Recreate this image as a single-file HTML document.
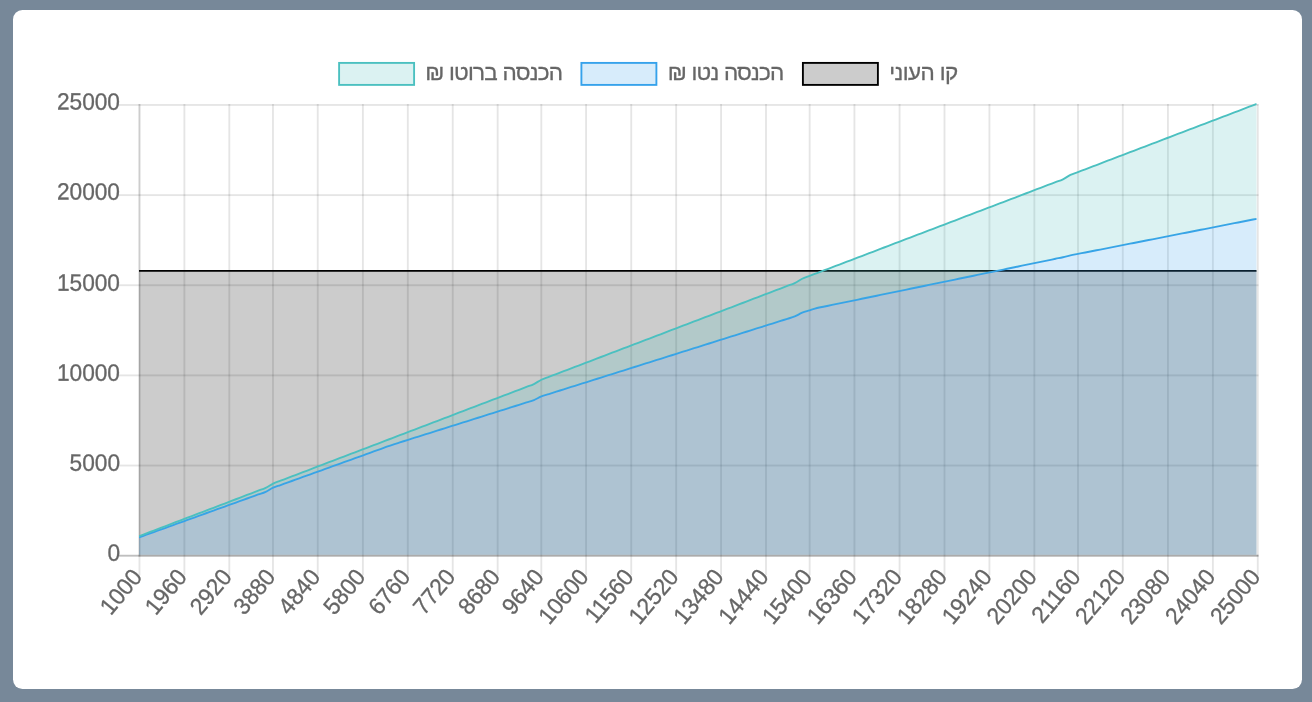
<!DOCTYPE html>
<html lang="he">
<head>
<meta charset="utf-8">
<title>הכנסה ברוטו / נטו</title>
<style>
html,body{margin:0;padding:0;width:1312px;height:702px;overflow:hidden;background:#778899;font-family:"Liberation Sans",Arial,sans-serif}
.t text{font-family:"Liberation Sans",Arial,sans-serif;font-size:22.5px;fill:#666;stroke:#666;stroke-width:0.3px}
.t text.d{font-size:23.6px}
.card{position:absolute;left:13px;top:10px;width:1289px;height:679px;background:#fff;border-radius:9.4px}
</style>
</head>
<body>
<div class="card"></div>
<svg width="1312" height="702" viewBox="0 0 1312 702" style="position:absolute;left:0;top:0">
<defs><clipPath id="ca"><rect x="139.00" y="102.95" width="1117.70" height="451.81"/></clipPath></defs>
<g shape-rendering="auto">
<rect x="138.53" y="104.01" width="1.875" height="471.19" fill="rgba(0,0,0,0.1)"/>
<rect x="183.44" y="104.01" width="1.875" height="471.19" fill="rgba(0,0,0,0.1)"/>
<rect x="228.37" y="104.01" width="1.875" height="471.19" fill="rgba(0,0,0,0.1)"/>
<rect x="272.03" y="104.01" width="1.875" height="471.19" fill="rgba(0,0,0,0.1)"/>
<rect x="316.80" y="104.01" width="1.875" height="471.19" fill="rgba(0,0,0,0.1)"/>
<rect x="361.93" y="104.01" width="1.875" height="471.19" fill="rgba(0,0,0,0.1)"/>
<rect x="406.88" y="104.01" width="1.875" height="471.19" fill="rgba(0,0,0,0.1)"/>
<rect x="451.79" y="104.01" width="1.875" height="471.19" fill="rgba(0,0,0,0.1)"/>
<rect x="496.72" y="104.01" width="1.875" height="471.19" fill="rgba(0,0,0,0.1)"/>
<rect x="540.38" y="104.01" width="1.875" height="471.19" fill="rgba(0,0,0,0.1)"/>
<rect x="585.15" y="104.01" width="1.875" height="471.19" fill="rgba(0,0,0,0.1)"/>
<rect x="630.28" y="104.01" width="1.875" height="471.19" fill="rgba(0,0,0,0.1)"/>
<rect x="675.23" y="104.01" width="1.875" height="471.19" fill="rgba(0,0,0,0.1)"/>
<rect x="720.14" y="104.01" width="1.875" height="471.19" fill="rgba(0,0,0,0.1)"/>
<rect x="765.07" y="104.01" width="1.875" height="471.19" fill="rgba(0,0,0,0.1)"/>
<rect x="808.73" y="104.01" width="1.875" height="471.19" fill="rgba(0,0,0,0.1)"/>
<rect x="853.50" y="104.01" width="1.875" height="471.19" fill="rgba(0,0,0,0.1)"/>
<rect x="898.63" y="104.01" width="1.875" height="471.19" fill="rgba(0,0,0,0.1)"/>
<rect x="943.58" y="104.01" width="1.875" height="471.19" fill="rgba(0,0,0,0.1)"/>
<rect x="988.49" y="104.01" width="1.875" height="471.19" fill="rgba(0,0,0,0.1)"/>
<rect x="1033.42" y="104.01" width="1.875" height="471.19" fill="rgba(0,0,0,0.1)"/>
<rect x="1077.08" y="104.01" width="1.875" height="471.19" fill="rgba(0,0,0,0.1)"/>
<rect x="1121.85" y="104.01" width="1.875" height="471.19" fill="rgba(0,0,0,0.1)"/>
<rect x="1166.98" y="104.01" width="1.875" height="471.19" fill="rgba(0,0,0,0.1)"/>
<rect x="1211.93" y="104.01" width="1.875" height="471.19" fill="rgba(0,0,0,0.1)"/>
<rect x="1256.84" y="104.01" width="1.875" height="471.19" fill="rgba(0,0,0,0.1)"/>
<rect x="118.91" y="554.76" width="1139.60" height="1.875" fill="rgba(0,0,0,0.25)"/>
<rect x="118.91" y="464.61" width="1139.60" height="1.875" fill="rgba(0,0,0,0.1)"/>
<rect x="118.91" y="374.46" width="1139.60" height="1.875" fill="rgba(0,0,0,0.1)"/>
<rect x="118.91" y="284.31" width="1139.60" height="1.875" fill="rgba(0,0,0,0.1)"/>
<rect x="118.91" y="194.16" width="1139.60" height="1.875" fill="rgba(0,0,0,0.1)"/>
<rect x="118.91" y="104.01" width="1139.60" height="1.875" fill="rgba(0,0,0,0.1)"/>
<rect x="138.51" y="104.01" width="1.875" height="452.62" fill="rgba(0,0,0,0.1)"/>
<rect x="138.51" y="554.76" width="1120.00" height="1.875" fill="rgba(0,0,0,0.1)"/>
</g>
<g clip-path="url(#ca)">
<rect x="139.0" y="270.9" width="1117.70" height="284.80" fill="rgba(0,0,0,0.2)"/>
<path d="M139.0 270.9H1256.7" stroke="#000" stroke-width="1.875" fill="none"/>
<path d="M139.00 537.40C141.98 536.33 143.47 535.79 146.45 534.72C149.43 533.64 150.92 533.11 153.90 532.03C156.88 530.96 158.37 530.42 161.35 529.35C164.33 528.28 165.82 527.74 168.81 526.67C171.79 525.59 173.28 525.06 176.26 523.99C179.24 522.91 180.73 522.38 183.71 521.30C186.69 520.23 188.18 519.69 191.16 518.62C194.14 517.55 195.63 517.01 198.61 515.94C201.59 514.86 203.08 514.33 206.06 513.25C209.04 512.18 210.53 511.64 213.51 510.57C216.49 509.50 217.98 508.96 220.96 507.89C223.95 506.81 225.44 506.28 228.42 505.20C231.40 504.13 232.89 503.59 235.87 502.52C238.85 501.45 240.34 500.91 243.32 499.84C246.30 498.76 247.79 498.23 250.77 497.16C253.75 496.08 255.24 495.55 258.22 494.47C261.20 493.40 262.80 493.09 265.67 491.79C268.76 490.39 270.04 489.11 273.12 487.71C276.00 486.40 277.59 486.10 280.58 485.02C283.56 483.95 285.05 483.41 288.03 482.34C291.01 481.27 292.50 480.73 295.48 479.66C298.46 478.58 299.95 478.05 302.93 476.97C305.91 475.90 307.40 475.36 310.38 474.29C313.36 473.22 314.85 472.68 317.83 471.61C320.81 470.53 322.30 470.00 325.28 468.93C328.26 467.85 329.75 467.32 332.73 466.24C335.72 465.17 337.21 464.63 340.19 463.56C343.17 462.49 344.66 461.95 347.64 460.88C350.62 459.80 352.11 459.27 355.09 458.19C358.07 457.12 359.56 456.58 362.54 455.51C365.52 454.44 367.01 453.90 369.99 452.83C372.97 451.75 374.46 451.22 377.44 450.14C380.42 449.07 381.91 448.53 384.89 447.46C387.87 446.39 389.34 445.79 392.35 444.78C395.31 443.78 396.82 443.37 399.80 442.43C402.78 441.49 404.27 441.02 407.25 440.08C410.23 439.14 411.72 438.67 414.70 437.73C417.68 436.79 419.17 436.32 422.15 435.38C425.13 434.44 426.62 433.97 429.60 433.03C432.58 432.09 434.07 431.62 437.05 430.68C440.03 429.74 441.52 429.27 444.50 428.33C447.49 427.39 448.98 426.92 451.96 425.98C454.94 425.04 456.43 424.57 459.41 423.63C462.39 422.69 463.88 422.22 466.86 421.28C469.84 420.34 471.33 419.87 474.31 418.93C477.29 417.99 478.78 417.52 481.76 416.58C484.74 415.64 486.23 415.17 489.21 414.23C492.19 413.29 493.68 412.82 496.66 411.88C499.64 410.94 501.13 410.47 504.12 409.53C507.10 408.59 508.59 408.12 511.57 407.18C514.55 406.24 516.04 405.77 519.02 404.83C522.00 403.89 523.49 403.42 526.47 402.48C529.45 401.54 531.04 401.31 533.92 400.13C537.00 398.87 538.29 397.64 541.37 396.38C544.26 395.20 545.84 394.97 548.82 394.03C551.80 393.09 553.29 392.62 556.27 391.68C559.26 390.74 560.75 390.27 563.73 389.33C566.71 388.39 568.20 387.92 571.18 386.98C574.16 386.04 575.65 385.57 578.63 384.63C581.61 383.69 583.10 383.22 586.08 382.28C589.06 381.34 590.55 380.87 593.53 379.93C596.51 378.99 598.00 378.52 600.98 377.58C603.96 376.64 605.45 376.17 608.43 375.23C611.41 374.29 612.90 373.82 615.89 372.88C618.87 371.94 620.36 371.47 623.34 370.53C626.32 369.59 627.81 369.12 630.79 368.18C633.77 367.24 635.26 366.77 638.24 365.83C641.22 364.89 642.71 364.42 645.69 363.48C648.67 362.54 650.16 362.07 653.14 361.13C656.12 360.19 657.61 359.72 660.59 358.78C663.57 357.84 665.06 357.37 668.04 356.43C671.03 355.49 672.52 355.02 675.50 354.08C678.48 353.14 679.97 352.67 682.95 351.73C685.93 350.79 687.42 350.32 690.40 349.38C693.38 348.44 694.87 347.97 697.85 347.03C700.83 346.09 702.32 345.62 705.30 344.68C708.28 343.74 709.77 343.27 712.75 342.33C715.73 341.39 717.22 340.92 720.20 339.98C723.18 339.04 724.67 338.57 727.66 337.63C730.64 336.69 732.13 336.22 735.11 335.28C738.09 334.34 739.58 333.87 742.56 332.93C745.54 331.99 747.03 331.52 750.01 330.58C752.99 329.64 754.48 329.17 757.46 328.23C760.44 327.29 761.93 326.82 764.91 325.88C767.89 324.94 769.38 324.47 772.36 323.53C775.34 322.59 776.83 322.12 779.81 321.18C782.80 320.24 784.29 319.77 787.27 318.83C790.25 317.89 791.83 317.66 794.72 316.48C797.80 315.22 799.09 313.99 802.17 312.73C805.05 311.55 806.64 311.32 809.62 310.38C812.60 309.44 814.05 308.82 817.07 308.03C820.01 307.26 821.54 307.10 824.52 306.49C827.50 305.87 828.99 305.57 831.97 304.95C834.95 304.33 836.44 304.03 839.43 303.41C842.41 302.80 843.90 302.49 846.88 301.87C849.86 301.26 851.35 300.95 854.33 300.33C857.31 299.72 858.80 299.41 861.78 298.79C864.76 298.18 866.25 297.87 869.23 297.25C872.21 296.64 873.70 296.33 876.68 295.72C879.66 295.10 881.15 294.79 884.13 294.18C887.11 293.56 888.60 293.25 891.58 292.64C894.57 292.02 896.06 291.71 899.04 291.10C902.02 290.48 903.51 290.18 906.49 289.56C909.47 288.94 910.96 288.64 913.94 288.02C916.92 287.41 918.41 287.10 921.39 286.48C924.37 285.87 925.86 285.56 928.84 284.94C931.82 284.33 933.31 284.02 936.29 283.40C939.27 282.79 940.76 282.48 943.74 281.86C946.72 281.25 948.21 280.94 951.20 280.33C954.18 279.71 955.67 279.40 958.65 278.79C961.63 278.17 963.12 277.86 966.10 277.25C969.08 276.63 970.57 276.32 973.55 275.71C976.53 275.09 978.02 274.79 981.00 274.17C983.98 273.55 985.47 273.25 988.45 272.63C991.43 272.02 992.92 271.71 995.90 271.09C998.88 270.48 1000.37 270.17 1003.35 269.55C1006.34 268.94 1007.83 268.63 1010.81 268.01C1013.79 267.40 1015.28 267.09 1018.26 266.47C1021.24 265.86 1022.73 265.55 1025.71 264.94C1028.69 264.32 1030.18 264.01 1033.16 263.40C1036.14 262.78 1037.63 262.47 1040.61 261.86C1043.59 261.24 1045.08 260.93 1048.06 260.32C1051.04 259.70 1052.53 259.40 1055.51 258.78C1058.49 258.16 1060.00 257.91 1062.97 257.24C1065.96 256.56 1067.42 256.07 1070.42 255.40C1073.38 254.74 1074.89 254.52 1077.87 253.94C1080.85 253.35 1082.34 253.06 1085.32 252.47C1088.30 251.89 1089.79 251.60 1092.77 251.01C1095.75 250.42 1097.24 250.13 1100.22 249.55C1103.20 248.96 1104.69 248.67 1107.67 248.08C1110.65 247.50 1112.14 247.20 1115.12 246.62C1118.11 246.03 1119.60 245.74 1122.58 245.15C1125.56 244.57 1127.05 244.28 1130.03 243.69C1133.01 243.10 1134.50 242.81 1137.48 242.23C1140.46 241.64 1141.95 241.35 1144.93 240.76C1147.91 240.18 1149.40 239.88 1152.38 239.30C1155.36 238.71 1156.85 238.42 1159.83 237.83C1162.81 237.25 1164.30 236.96 1167.28 236.37C1170.26 235.78 1171.75 235.49 1174.74 234.91C1177.72 234.32 1179.21 234.03 1182.19 233.44C1185.17 232.86 1186.66 232.56 1189.64 231.98C1192.62 231.39 1194.11 231.10 1197.09 230.51C1200.07 229.93 1201.56 229.64 1204.54 229.05C1207.52 228.46 1209.01 228.17 1211.99 227.59C1214.97 227.00 1216.46 226.71 1219.44 226.12C1222.42 225.54 1223.91 225.24 1226.89 224.66C1229.88 224.07 1231.37 223.78 1234.35 223.19C1237.33 222.61 1238.82 222.32 1241.80 221.73C1244.78 221.14 1246.27 220.85 1249.25 220.27C1252.23 219.68 1253.72 219.39 1256.70 218.80L1256.70 555.7L139.0 555.7Z" fill="rgba(54,162,235,0.2)"/>
<path d="M139.00 537.40C141.98 536.33 143.47 535.79 146.45 534.72C149.43 533.64 150.92 533.11 153.90 532.03C156.88 530.96 158.37 530.42 161.35 529.35C164.33 528.28 165.82 527.74 168.81 526.67C171.79 525.59 173.28 525.06 176.26 523.99C179.24 522.91 180.73 522.38 183.71 521.30C186.69 520.23 188.18 519.69 191.16 518.62C194.14 517.55 195.63 517.01 198.61 515.94C201.59 514.86 203.08 514.33 206.06 513.25C209.04 512.18 210.53 511.64 213.51 510.57C216.49 509.50 217.98 508.96 220.96 507.89C223.95 506.81 225.44 506.28 228.42 505.20C231.40 504.13 232.89 503.59 235.87 502.52C238.85 501.45 240.34 500.91 243.32 499.84C246.30 498.76 247.79 498.23 250.77 497.16C253.75 496.08 255.24 495.55 258.22 494.47C261.20 493.40 262.80 493.09 265.67 491.79C268.76 490.39 270.04 489.11 273.12 487.71C276.00 486.40 277.59 486.10 280.58 485.02C283.56 483.95 285.05 483.41 288.03 482.34C291.01 481.27 292.50 480.73 295.48 479.66C298.46 478.58 299.95 478.05 302.93 476.97C305.91 475.90 307.40 475.36 310.38 474.29C313.36 473.22 314.85 472.68 317.83 471.61C320.81 470.53 322.30 470.00 325.28 468.93C328.26 467.85 329.75 467.32 332.73 466.24C335.72 465.17 337.21 464.63 340.19 463.56C343.17 462.49 344.66 461.95 347.64 460.88C350.62 459.80 352.11 459.27 355.09 458.19C358.07 457.12 359.56 456.58 362.54 455.51C365.52 454.44 367.01 453.90 369.99 452.83C372.97 451.75 374.46 451.22 377.44 450.14C380.42 449.07 381.91 448.53 384.89 447.46C387.87 446.39 389.34 445.79 392.35 444.78C395.31 443.78 396.82 443.37 399.80 442.43C402.78 441.49 404.27 441.02 407.25 440.08C410.23 439.14 411.72 438.67 414.70 437.73C417.68 436.79 419.17 436.32 422.15 435.38C425.13 434.44 426.62 433.97 429.60 433.03C432.58 432.09 434.07 431.62 437.05 430.68C440.03 429.74 441.52 429.27 444.50 428.33C447.49 427.39 448.98 426.92 451.96 425.98C454.94 425.04 456.43 424.57 459.41 423.63C462.39 422.69 463.88 422.22 466.86 421.28C469.84 420.34 471.33 419.87 474.31 418.93C477.29 417.99 478.78 417.52 481.76 416.58C484.74 415.64 486.23 415.17 489.21 414.23C492.19 413.29 493.68 412.82 496.66 411.88C499.64 410.94 501.13 410.47 504.12 409.53C507.10 408.59 508.59 408.12 511.57 407.18C514.55 406.24 516.04 405.77 519.02 404.83C522.00 403.89 523.49 403.42 526.47 402.48C529.45 401.54 531.04 401.31 533.92 400.13C537.00 398.87 538.29 397.64 541.37 396.38C544.26 395.20 545.84 394.97 548.82 394.03C551.80 393.09 553.29 392.62 556.27 391.68C559.26 390.74 560.75 390.27 563.73 389.33C566.71 388.39 568.20 387.92 571.18 386.98C574.16 386.04 575.65 385.57 578.63 384.63C581.61 383.69 583.10 383.22 586.08 382.28C589.06 381.34 590.55 380.87 593.53 379.93C596.51 378.99 598.00 378.52 600.98 377.58C603.96 376.64 605.45 376.17 608.43 375.23C611.41 374.29 612.90 373.82 615.89 372.88C618.87 371.94 620.36 371.47 623.34 370.53C626.32 369.59 627.81 369.12 630.79 368.18C633.77 367.24 635.26 366.77 638.24 365.83C641.22 364.89 642.71 364.42 645.69 363.48C648.67 362.54 650.16 362.07 653.14 361.13C656.12 360.19 657.61 359.72 660.59 358.78C663.57 357.84 665.06 357.37 668.04 356.43C671.03 355.49 672.52 355.02 675.50 354.08C678.48 353.14 679.97 352.67 682.95 351.73C685.93 350.79 687.42 350.32 690.40 349.38C693.38 348.44 694.87 347.97 697.85 347.03C700.83 346.09 702.32 345.62 705.30 344.68C708.28 343.74 709.77 343.27 712.75 342.33C715.73 341.39 717.22 340.92 720.20 339.98C723.18 339.04 724.67 338.57 727.66 337.63C730.64 336.69 732.13 336.22 735.11 335.28C738.09 334.34 739.58 333.87 742.56 332.93C745.54 331.99 747.03 331.52 750.01 330.58C752.99 329.64 754.48 329.17 757.46 328.23C760.44 327.29 761.93 326.82 764.91 325.88C767.89 324.94 769.38 324.47 772.36 323.53C775.34 322.59 776.83 322.12 779.81 321.18C782.80 320.24 784.29 319.77 787.27 318.83C790.25 317.89 791.83 317.66 794.72 316.48C797.80 315.22 799.09 313.99 802.17 312.73C805.05 311.55 806.64 311.32 809.62 310.38C812.60 309.44 814.05 308.82 817.07 308.03C820.01 307.26 821.54 307.10 824.52 306.49C827.50 305.87 828.99 305.57 831.97 304.95C834.95 304.33 836.44 304.03 839.43 303.41C842.41 302.80 843.90 302.49 846.88 301.87C849.86 301.26 851.35 300.95 854.33 300.33C857.31 299.72 858.80 299.41 861.78 298.79C864.76 298.18 866.25 297.87 869.23 297.25C872.21 296.64 873.70 296.33 876.68 295.72C879.66 295.10 881.15 294.79 884.13 294.18C887.11 293.56 888.60 293.25 891.58 292.64C894.57 292.02 896.06 291.71 899.04 291.10C902.02 290.48 903.51 290.18 906.49 289.56C909.47 288.94 910.96 288.64 913.94 288.02C916.92 287.41 918.41 287.10 921.39 286.48C924.37 285.87 925.86 285.56 928.84 284.94C931.82 284.33 933.31 284.02 936.29 283.40C939.27 282.79 940.76 282.48 943.74 281.86C946.72 281.25 948.21 280.94 951.20 280.33C954.18 279.71 955.67 279.40 958.65 278.79C961.63 278.17 963.12 277.86 966.10 277.25C969.08 276.63 970.57 276.32 973.55 275.71C976.53 275.09 978.02 274.79 981.00 274.17C983.98 273.55 985.47 273.25 988.45 272.63C991.43 272.02 992.92 271.71 995.90 271.09C998.88 270.48 1000.37 270.17 1003.35 269.55C1006.34 268.94 1007.83 268.63 1010.81 268.01C1013.79 267.40 1015.28 267.09 1018.26 266.47C1021.24 265.86 1022.73 265.55 1025.71 264.94C1028.69 264.32 1030.18 264.01 1033.16 263.40C1036.14 262.78 1037.63 262.47 1040.61 261.86C1043.59 261.24 1045.08 260.93 1048.06 260.32C1051.04 259.70 1052.53 259.40 1055.51 258.78C1058.49 258.16 1060.00 257.91 1062.97 257.24C1065.96 256.56 1067.42 256.07 1070.42 255.40C1073.38 254.74 1074.89 254.52 1077.87 253.94C1080.85 253.35 1082.34 253.06 1085.32 252.47C1088.30 251.89 1089.79 251.60 1092.77 251.01C1095.75 250.42 1097.24 250.13 1100.22 249.55C1103.20 248.96 1104.69 248.67 1107.67 248.08C1110.65 247.50 1112.14 247.20 1115.12 246.62C1118.11 246.03 1119.60 245.74 1122.58 245.15C1125.56 244.57 1127.05 244.28 1130.03 243.69C1133.01 243.10 1134.50 242.81 1137.48 242.23C1140.46 241.64 1141.95 241.35 1144.93 240.76C1147.91 240.18 1149.40 239.88 1152.38 239.30C1155.36 238.71 1156.85 238.42 1159.83 237.83C1162.81 237.25 1164.30 236.96 1167.28 236.37C1170.26 235.78 1171.75 235.49 1174.74 234.91C1177.72 234.32 1179.21 234.03 1182.19 233.44C1185.17 232.86 1186.66 232.56 1189.64 231.98C1192.62 231.39 1194.11 231.10 1197.09 230.51C1200.07 229.93 1201.56 229.64 1204.54 229.05C1207.52 228.46 1209.01 228.17 1211.99 227.59C1214.97 227.00 1216.46 226.71 1219.44 226.12C1222.42 225.54 1223.91 225.24 1226.89 224.66C1229.88 224.07 1231.37 223.78 1234.35 223.19C1237.33 222.61 1238.82 222.32 1241.80 221.73C1244.78 221.14 1246.27 220.85 1249.25 220.27C1252.23 219.68 1253.72 219.39 1256.70 218.80" stroke="rgb(54,162,235)" stroke-width="1.875" fill="none"/>
<path d="M139.00 536.20C141.98 535.06 143.47 534.49 146.45 533.36C149.43 532.22 150.92 531.65 153.90 530.52C156.88 529.38 158.37 528.81 161.35 527.67C164.33 526.54 165.82 525.97 168.81 524.83C171.79 523.70 173.28 523.13 176.26 521.99C179.24 520.85 180.73 520.28 183.71 519.15C186.69 518.01 188.18 517.44 191.16 516.31C194.14 515.17 195.63 514.60 198.61 513.46C201.59 512.33 203.08 511.76 206.06 510.62C209.04 509.49 210.53 508.92 213.51 507.78C216.49 506.64 217.98 506.07 220.96 504.94C223.95 503.80 225.44 503.23 228.42 502.10C231.40 500.96 232.89 500.39 235.87 499.25C238.85 498.12 240.34 497.55 243.32 496.41C246.30 495.28 247.79 494.71 250.77 493.57C253.75 492.43 255.24 491.86 258.22 490.73C261.20 489.59 262.81 489.27 265.67 487.89C268.77 486.39 270.03 485.04 273.12 483.54C275.99 482.16 277.59 481.84 280.58 480.70C283.56 479.57 285.05 479.00 288.03 477.86C291.01 476.72 292.50 476.15 295.48 475.02C298.46 473.88 299.95 473.31 302.93 472.18C305.91 471.04 307.40 470.47 310.38 469.33C313.36 468.20 314.85 467.63 317.83 466.49C320.81 465.36 322.30 464.79 325.28 463.65C328.26 462.51 329.75 461.94 332.73 460.81C335.72 459.67 337.21 459.10 340.19 457.97C343.17 456.83 344.66 456.26 347.64 455.12C350.62 453.99 352.11 453.42 355.09 452.28C358.07 451.15 359.56 450.58 362.54 449.44C365.52 448.30 367.01 447.73 369.99 446.60C372.97 445.46 374.46 444.89 377.44 443.76C380.42 442.62 381.91 442.05 384.89 440.91C387.87 439.78 389.36 439.21 392.35 438.07C395.33 436.94 396.82 436.37 399.80 435.23C402.78 434.09 404.27 433.52 407.25 432.39C410.23 431.25 411.72 430.68 414.70 429.55C417.68 428.41 419.17 427.84 422.15 426.70C425.13 425.57 426.62 425.00 429.60 423.86C432.58 422.73 434.07 422.16 437.05 421.02C440.03 419.88 441.52 419.31 444.50 418.18C447.49 417.04 448.98 416.47 451.96 415.34C454.94 414.20 456.43 413.63 459.41 412.49C462.39 411.36 463.88 410.79 466.86 409.65C469.84 408.52 471.33 407.95 474.31 406.81C477.29 405.67 478.78 405.10 481.76 403.97C484.74 402.83 486.23 402.26 489.21 401.13C492.19 399.99 493.68 399.42 496.66 398.28C499.64 397.15 501.13 396.58 504.12 395.44C507.10 394.31 508.59 393.74 511.57 392.60C514.55 391.46 516.04 390.89 519.02 389.76C522.00 388.62 523.49 388.05 526.47 386.92C529.45 385.78 531.06 385.45 533.92 384.07C537.02 382.58 538.27 381.22 541.37 379.73C544.24 378.35 545.84 378.03 548.82 376.89C551.80 375.75 553.29 375.18 556.27 374.05C559.26 372.91 560.75 372.34 563.73 371.21C566.71 370.07 568.20 369.50 571.18 368.36C574.16 367.23 575.65 366.66 578.63 365.52C581.61 364.39 583.10 363.82 586.08 362.68C589.06 361.54 590.55 360.97 593.53 359.84C596.51 358.70 598.00 358.13 600.98 357.00C603.96 355.86 605.45 355.29 608.43 354.15C611.41 353.02 612.90 352.45 615.89 351.31C618.87 350.18 620.36 349.61 623.34 348.47C626.32 347.33 627.81 346.76 630.79 345.63C633.77 344.49 635.26 343.92 638.24 342.79C641.22 341.65 642.71 341.08 645.69 339.94C648.67 338.81 650.16 338.24 653.14 337.10C656.12 335.97 657.61 335.40 660.59 334.26C663.57 333.12 665.06 332.55 668.04 331.42C671.03 330.28 672.52 329.71 675.50 328.58C678.48 327.44 679.97 326.87 682.95 325.73C685.93 324.60 687.42 324.03 690.40 322.89C693.38 321.76 694.87 321.19 697.85 320.05C700.83 318.91 702.32 318.34 705.30 317.21C708.28 316.07 709.77 315.50 712.75 314.37C715.73 313.23 717.22 312.66 720.20 311.52C723.18 310.39 724.67 309.82 727.66 308.68C730.64 307.55 732.13 306.98 735.11 305.84C738.09 304.70 739.58 304.13 742.56 303.00C745.54 301.86 747.03 301.29 750.01 300.16C752.99 299.02 754.48 298.45 757.46 297.31C760.44 296.18 761.93 295.61 764.91 294.47C767.89 293.34 769.38 292.77 772.36 291.63C775.34 290.49 776.83 289.92 779.81 288.79C782.80 287.65 784.29 287.08 787.27 285.95C790.25 284.81 791.85 284.48 794.72 283.10C797.81 281.61 799.07 280.25 802.17 278.76C805.03 277.38 806.64 277.06 809.62 275.92C812.60 274.78 814.09 274.21 817.07 273.08C820.05 271.94 821.54 271.37 824.52 270.24C827.50 269.10 828.99 268.53 831.97 267.39C834.95 266.26 836.44 265.69 839.43 264.55C842.41 263.42 843.90 262.85 846.88 261.71C849.86 260.57 851.35 260.00 854.33 258.87C857.31 257.73 858.80 257.16 861.78 256.03C864.76 254.89 866.25 254.32 869.23 253.18C872.21 252.05 873.70 251.48 876.68 250.34C879.66 249.21 881.15 248.64 884.13 247.50C887.11 246.36 888.60 245.79 891.58 244.66C894.57 243.52 896.06 242.95 899.04 241.82C902.02 240.68 903.51 240.11 906.49 238.97C909.47 237.84 910.96 237.27 913.94 236.13C916.92 235.00 918.41 234.43 921.39 233.29C924.37 232.15 925.86 231.58 928.84 230.45C931.82 229.31 933.31 228.74 936.29 227.61C939.27 226.47 940.76 225.90 943.74 224.76C946.72 223.63 948.21 223.06 951.20 221.92C954.18 220.79 955.67 220.22 958.65 219.08C961.63 217.94 963.12 217.37 966.10 216.24C969.08 215.10 970.57 214.53 973.55 213.40C976.53 212.26 978.02 211.69 981.00 210.55C983.98 209.42 985.47 208.85 988.45 207.71C991.43 206.58 992.92 206.01 995.90 204.87C998.88 203.73 1000.37 203.16 1003.35 202.03C1006.34 200.89 1007.83 200.32 1010.81 199.19C1013.79 198.05 1015.28 197.48 1018.26 196.34C1021.24 195.21 1022.73 194.64 1025.71 193.50C1028.69 192.37 1030.18 191.80 1033.16 190.66C1036.14 189.52 1037.63 188.95 1040.61 187.82C1043.59 186.68 1045.08 186.11 1048.06 184.98C1051.04 183.84 1052.53 183.27 1055.51 182.13C1058.49 181.00 1060.10 180.67 1062.97 179.29C1066.06 177.80 1067.32 176.44 1070.42 174.95C1073.28 173.57 1074.89 173.24 1077.87 172.11C1080.85 170.97 1082.34 170.40 1085.32 169.27C1088.30 168.13 1089.79 167.56 1092.77 166.42C1095.75 165.29 1097.24 164.72 1100.22 163.58C1103.20 162.45 1104.69 161.88 1107.67 160.74C1110.65 159.60 1112.14 159.03 1115.12 157.90C1118.11 156.76 1119.60 156.19 1122.58 155.06C1125.56 153.92 1127.05 153.35 1130.03 152.21C1133.01 151.08 1134.50 150.51 1137.48 149.37C1140.46 148.24 1141.95 147.67 1144.93 146.53C1147.91 145.39 1149.40 144.82 1152.38 143.69C1155.36 142.55 1156.85 141.98 1159.83 140.85C1162.81 139.71 1164.30 139.14 1167.28 138.00C1170.26 136.87 1171.75 136.30 1174.74 135.16C1177.72 134.03 1179.21 133.46 1182.19 132.32C1185.17 131.18 1186.66 130.61 1189.64 129.48C1192.62 128.34 1194.11 127.77 1197.09 126.64C1200.07 125.50 1201.56 124.93 1204.54 123.79C1207.52 122.66 1209.01 122.09 1211.99 120.95C1214.97 119.82 1216.46 119.25 1219.44 118.11C1222.42 116.97 1223.91 116.40 1226.89 115.27C1229.88 114.13 1231.37 113.56 1234.35 112.43C1237.33 111.29 1238.82 110.72 1241.80 109.58C1244.78 108.45 1246.27 107.88 1249.25 106.74C1252.23 105.61 1253.72 105.04 1256.70 103.90L1256.70 218.80C1253.72 219.39 1252.23 219.68 1249.25 220.27C1246.27 220.85 1244.78 221.14 1241.80 221.73C1238.82 222.32 1237.33 222.61 1234.35 223.19C1231.37 223.78 1229.88 224.07 1226.89 224.66C1223.91 225.24 1222.42 225.54 1219.44 226.12C1216.46 226.71 1214.97 227.00 1211.99 227.59C1209.01 228.17 1207.52 228.46 1204.54 229.05C1201.56 229.64 1200.07 229.93 1197.09 230.51C1194.11 231.10 1192.62 231.39 1189.64 231.98C1186.66 232.56 1185.17 232.86 1182.19 233.44C1179.21 234.03 1177.72 234.32 1174.74 234.91C1171.75 235.49 1170.26 235.78 1167.28 236.37C1164.30 236.96 1162.81 237.25 1159.83 237.83C1156.85 238.42 1155.36 238.71 1152.38 239.30C1149.40 239.88 1147.91 240.18 1144.93 240.76C1141.95 241.35 1140.46 241.64 1137.48 242.23C1134.50 242.81 1133.01 243.10 1130.03 243.69C1127.05 244.28 1125.56 244.57 1122.58 245.15C1119.60 245.74 1118.11 246.03 1115.12 246.62C1112.14 247.20 1110.65 247.50 1107.67 248.08C1104.69 248.67 1103.20 248.96 1100.22 249.55C1097.24 250.13 1095.75 250.42 1092.77 251.01C1089.79 251.60 1088.30 251.89 1085.32 252.47C1082.34 253.06 1080.85 253.35 1077.87 253.94C1074.89 254.52 1073.38 254.74 1070.42 255.40C1067.42 256.07 1065.96 256.56 1062.97 257.24C1060.00 257.91 1058.49 258.16 1055.51 258.78C1052.53 259.40 1051.04 259.70 1048.06 260.32C1045.08 260.93 1043.59 261.24 1040.61 261.86C1037.63 262.47 1036.14 262.78 1033.16 263.40C1030.18 264.01 1028.69 264.32 1025.71 264.94C1022.73 265.55 1021.24 265.86 1018.26 266.47C1015.28 267.09 1013.79 267.40 1010.81 268.01C1007.83 268.63 1006.34 268.94 1003.35 269.55C1000.37 270.17 998.88 270.48 995.90 271.09C992.92 271.71 991.43 272.02 988.45 272.63C985.47 273.25 983.98 273.55 981.00 274.17C978.02 274.79 976.53 275.09 973.55 275.71C970.57 276.32 969.08 276.63 966.10 277.25C963.12 277.86 961.63 278.17 958.65 278.79C955.67 279.40 954.18 279.71 951.20 280.33C948.21 280.94 946.72 281.25 943.74 281.86C940.76 282.48 939.27 282.79 936.29 283.40C933.31 284.02 931.82 284.33 928.84 284.94C925.86 285.56 924.37 285.87 921.39 286.48C918.41 287.10 916.92 287.41 913.94 288.02C910.96 288.64 909.47 288.94 906.49 289.56C903.51 290.18 902.02 290.48 899.04 291.10C896.06 291.71 894.57 292.02 891.58 292.64C888.60 293.25 887.11 293.56 884.13 294.18C881.15 294.79 879.66 295.10 876.68 295.72C873.70 296.33 872.21 296.64 869.23 297.25C866.25 297.87 864.76 298.18 861.78 298.79C858.80 299.41 857.31 299.72 854.33 300.33C851.35 300.95 849.86 301.26 846.88 301.87C843.90 302.49 842.41 302.80 839.43 303.41C836.44 304.03 834.95 304.33 831.97 304.95C828.99 305.57 827.50 305.87 824.52 306.49C821.54 307.10 820.01 307.26 817.07 308.03C814.05 308.82 812.60 309.44 809.62 310.38C806.64 311.32 805.05 311.55 802.17 312.73C799.09 313.99 797.80 315.22 794.72 316.48C791.83 317.66 790.25 317.89 787.27 318.83C784.29 319.77 782.80 320.24 779.81 321.18C776.83 322.12 775.34 322.59 772.36 323.53C769.38 324.47 767.89 324.94 764.91 325.88C761.93 326.82 760.44 327.29 757.46 328.23C754.48 329.17 752.99 329.64 750.01 330.58C747.03 331.52 745.54 331.99 742.56 332.93C739.58 333.87 738.09 334.34 735.11 335.28C732.13 336.22 730.64 336.69 727.66 337.63C724.67 338.57 723.18 339.04 720.20 339.98C717.22 340.92 715.73 341.39 712.75 342.33C709.77 343.27 708.28 343.74 705.30 344.68C702.32 345.62 700.83 346.09 697.85 347.03C694.87 347.97 693.38 348.44 690.40 349.38C687.42 350.32 685.93 350.79 682.95 351.73C679.97 352.67 678.48 353.14 675.50 354.08C672.52 355.02 671.03 355.49 668.04 356.43C665.06 357.37 663.57 357.84 660.59 358.78C657.61 359.72 656.12 360.19 653.14 361.13C650.16 362.07 648.67 362.54 645.69 363.48C642.71 364.42 641.22 364.89 638.24 365.83C635.26 366.77 633.77 367.24 630.79 368.18C627.81 369.12 626.32 369.59 623.34 370.53C620.36 371.47 618.87 371.94 615.89 372.88C612.90 373.82 611.41 374.29 608.43 375.23C605.45 376.17 603.96 376.64 600.98 377.58C598.00 378.52 596.51 378.99 593.53 379.93C590.55 380.87 589.06 381.34 586.08 382.28C583.10 383.22 581.61 383.69 578.63 384.63C575.65 385.57 574.16 386.04 571.18 386.98C568.20 387.92 566.71 388.39 563.73 389.33C560.75 390.27 559.26 390.74 556.27 391.68C553.29 392.62 551.80 393.09 548.82 394.03C545.84 394.97 544.26 395.20 541.37 396.38C538.29 397.64 537.00 398.87 533.92 400.13C531.04 401.31 529.45 401.54 526.47 402.48C523.49 403.42 522.00 403.89 519.02 404.83C516.04 405.77 514.55 406.24 511.57 407.18C508.59 408.12 507.10 408.59 504.12 409.53C501.13 410.47 499.64 410.94 496.66 411.88C493.68 412.82 492.19 413.29 489.21 414.23C486.23 415.17 484.74 415.64 481.76 416.58C478.78 417.52 477.29 417.99 474.31 418.93C471.33 419.87 469.84 420.34 466.86 421.28C463.88 422.22 462.39 422.69 459.41 423.63C456.43 424.57 454.94 425.04 451.96 425.98C448.98 426.92 447.49 427.39 444.50 428.33C441.52 429.27 440.03 429.74 437.05 430.68C434.07 431.62 432.58 432.09 429.60 433.03C426.62 433.97 425.13 434.44 422.15 435.38C419.17 436.32 417.68 436.79 414.70 437.73C411.72 438.67 410.23 439.14 407.25 440.08C404.27 441.02 402.78 441.49 399.80 442.43C396.82 443.37 395.31 443.78 392.35 444.78C389.34 445.79 387.87 446.39 384.89 447.46C381.91 448.53 380.42 449.07 377.44 450.14C374.46 451.22 372.97 451.75 369.99 452.83C367.01 453.90 365.52 454.44 362.54 455.51C359.56 456.58 358.07 457.12 355.09 458.19C352.11 459.27 350.62 459.80 347.64 460.88C344.66 461.95 343.17 462.49 340.19 463.56C337.21 464.63 335.72 465.17 332.73 466.24C329.75 467.32 328.26 467.85 325.28 468.93C322.30 470.00 320.81 470.53 317.83 471.61C314.85 472.68 313.36 473.22 310.38 474.29C307.40 475.36 305.91 475.90 302.93 476.97C299.95 478.05 298.46 478.58 295.48 479.66C292.50 480.73 291.01 481.27 288.03 482.34C285.05 483.41 283.56 483.95 280.58 485.02C277.59 486.10 276.00 486.40 273.12 487.71C270.04 489.11 268.76 490.39 265.67 491.79C262.80 493.09 261.20 493.40 258.22 494.47C255.24 495.55 253.75 496.08 250.77 497.16C247.79 498.23 246.30 498.76 243.32 499.84C240.34 500.91 238.85 501.45 235.87 502.52C232.89 503.59 231.40 504.13 228.42 505.20C225.44 506.28 223.95 506.81 220.96 507.89C217.98 508.96 216.49 509.50 213.51 510.57C210.53 511.64 209.04 512.18 206.06 513.25C203.08 514.33 201.59 514.86 198.61 515.94C195.63 517.01 194.14 517.55 191.16 518.62C188.18 519.69 186.69 520.23 183.71 521.30C180.73 522.38 179.24 522.91 176.26 523.99C173.28 525.06 171.79 525.59 168.81 526.67C165.82 527.74 164.33 528.28 161.35 529.35C158.37 530.42 156.88 530.96 153.90 532.03C150.92 533.11 149.43 533.64 146.45 534.72C143.47 535.79 141.98 536.33 139.00 537.40Z" fill="rgba(75,192,192,0.2)"/>
<path d="M139.00 536.20C141.98 535.06 143.47 534.49 146.45 533.36C149.43 532.22 150.92 531.65 153.90 530.52C156.88 529.38 158.37 528.81 161.35 527.67C164.33 526.54 165.82 525.97 168.81 524.83C171.79 523.70 173.28 523.13 176.26 521.99C179.24 520.85 180.73 520.28 183.71 519.15C186.69 518.01 188.18 517.44 191.16 516.31C194.14 515.17 195.63 514.60 198.61 513.46C201.59 512.33 203.08 511.76 206.06 510.62C209.04 509.49 210.53 508.92 213.51 507.78C216.49 506.64 217.98 506.07 220.96 504.94C223.95 503.80 225.44 503.23 228.42 502.10C231.40 500.96 232.89 500.39 235.87 499.25C238.85 498.12 240.34 497.55 243.32 496.41C246.30 495.28 247.79 494.71 250.77 493.57C253.75 492.43 255.24 491.86 258.22 490.73C261.20 489.59 262.81 489.27 265.67 487.89C268.77 486.39 270.03 485.04 273.12 483.54C275.99 482.16 277.59 481.84 280.58 480.70C283.56 479.57 285.05 479.00 288.03 477.86C291.01 476.72 292.50 476.15 295.48 475.02C298.46 473.88 299.95 473.31 302.93 472.18C305.91 471.04 307.40 470.47 310.38 469.33C313.36 468.20 314.85 467.63 317.83 466.49C320.81 465.36 322.30 464.79 325.28 463.65C328.26 462.51 329.75 461.94 332.73 460.81C335.72 459.67 337.21 459.10 340.19 457.97C343.17 456.83 344.66 456.26 347.64 455.12C350.62 453.99 352.11 453.42 355.09 452.28C358.07 451.15 359.56 450.58 362.54 449.44C365.52 448.30 367.01 447.73 369.99 446.60C372.97 445.46 374.46 444.89 377.44 443.76C380.42 442.62 381.91 442.05 384.89 440.91C387.87 439.78 389.36 439.21 392.35 438.07C395.33 436.94 396.82 436.37 399.80 435.23C402.78 434.09 404.27 433.52 407.25 432.39C410.23 431.25 411.72 430.68 414.70 429.55C417.68 428.41 419.17 427.84 422.15 426.70C425.13 425.57 426.62 425.00 429.60 423.86C432.58 422.73 434.07 422.16 437.05 421.02C440.03 419.88 441.52 419.31 444.50 418.18C447.49 417.04 448.98 416.47 451.96 415.34C454.94 414.20 456.43 413.63 459.41 412.49C462.39 411.36 463.88 410.79 466.86 409.65C469.84 408.52 471.33 407.95 474.31 406.81C477.29 405.67 478.78 405.10 481.76 403.97C484.74 402.83 486.23 402.26 489.21 401.13C492.19 399.99 493.68 399.42 496.66 398.28C499.64 397.15 501.13 396.58 504.12 395.44C507.10 394.31 508.59 393.74 511.57 392.60C514.55 391.46 516.04 390.89 519.02 389.76C522.00 388.62 523.49 388.05 526.47 386.92C529.45 385.78 531.06 385.45 533.92 384.07C537.02 382.58 538.27 381.22 541.37 379.73C544.24 378.35 545.84 378.03 548.82 376.89C551.80 375.75 553.29 375.18 556.27 374.05C559.26 372.91 560.75 372.34 563.73 371.21C566.71 370.07 568.20 369.50 571.18 368.36C574.16 367.23 575.65 366.66 578.63 365.52C581.61 364.39 583.10 363.82 586.08 362.68C589.06 361.54 590.55 360.97 593.53 359.84C596.51 358.70 598.00 358.13 600.98 357.00C603.96 355.86 605.45 355.29 608.43 354.15C611.41 353.02 612.90 352.45 615.89 351.31C618.87 350.18 620.36 349.61 623.34 348.47C626.32 347.33 627.81 346.76 630.79 345.63C633.77 344.49 635.26 343.92 638.24 342.79C641.22 341.65 642.71 341.08 645.69 339.94C648.67 338.81 650.16 338.24 653.14 337.10C656.12 335.97 657.61 335.40 660.59 334.26C663.57 333.12 665.06 332.55 668.04 331.42C671.03 330.28 672.52 329.71 675.50 328.58C678.48 327.44 679.97 326.87 682.95 325.73C685.93 324.60 687.42 324.03 690.40 322.89C693.38 321.76 694.87 321.19 697.85 320.05C700.83 318.91 702.32 318.34 705.30 317.21C708.28 316.07 709.77 315.50 712.75 314.37C715.73 313.23 717.22 312.66 720.20 311.52C723.18 310.39 724.67 309.82 727.66 308.68C730.64 307.55 732.13 306.98 735.11 305.84C738.09 304.70 739.58 304.13 742.56 303.00C745.54 301.86 747.03 301.29 750.01 300.16C752.99 299.02 754.48 298.45 757.46 297.31C760.44 296.18 761.93 295.61 764.91 294.47C767.89 293.34 769.38 292.77 772.36 291.63C775.34 290.49 776.83 289.92 779.81 288.79C782.80 287.65 784.29 287.08 787.27 285.95C790.25 284.81 791.85 284.48 794.72 283.10C797.81 281.61 799.07 280.25 802.17 278.76C805.03 277.38 806.64 277.06 809.62 275.92C812.60 274.78 814.09 274.21 817.07 273.08C820.05 271.94 821.54 271.37 824.52 270.24C827.50 269.10 828.99 268.53 831.97 267.39C834.95 266.26 836.44 265.69 839.43 264.55C842.41 263.42 843.90 262.85 846.88 261.71C849.86 260.57 851.35 260.00 854.33 258.87C857.31 257.73 858.80 257.16 861.78 256.03C864.76 254.89 866.25 254.32 869.23 253.18C872.21 252.05 873.70 251.48 876.68 250.34C879.66 249.21 881.15 248.64 884.13 247.50C887.11 246.36 888.60 245.79 891.58 244.66C894.57 243.52 896.06 242.95 899.04 241.82C902.02 240.68 903.51 240.11 906.49 238.97C909.47 237.84 910.96 237.27 913.94 236.13C916.92 235.00 918.41 234.43 921.39 233.29C924.37 232.15 925.86 231.58 928.84 230.45C931.82 229.31 933.31 228.74 936.29 227.61C939.27 226.47 940.76 225.90 943.74 224.76C946.72 223.63 948.21 223.06 951.20 221.92C954.18 220.79 955.67 220.22 958.65 219.08C961.63 217.94 963.12 217.37 966.10 216.24C969.08 215.10 970.57 214.53 973.55 213.40C976.53 212.26 978.02 211.69 981.00 210.55C983.98 209.42 985.47 208.85 988.45 207.71C991.43 206.58 992.92 206.01 995.90 204.87C998.88 203.73 1000.37 203.16 1003.35 202.03C1006.34 200.89 1007.83 200.32 1010.81 199.19C1013.79 198.05 1015.28 197.48 1018.26 196.34C1021.24 195.21 1022.73 194.64 1025.71 193.50C1028.69 192.37 1030.18 191.80 1033.16 190.66C1036.14 189.52 1037.63 188.95 1040.61 187.82C1043.59 186.68 1045.08 186.11 1048.06 184.98C1051.04 183.84 1052.53 183.27 1055.51 182.13C1058.49 181.00 1060.10 180.67 1062.97 179.29C1066.06 177.80 1067.32 176.44 1070.42 174.95C1073.28 173.57 1074.89 173.24 1077.87 172.11C1080.85 170.97 1082.34 170.40 1085.32 169.27C1088.30 168.13 1089.79 167.56 1092.77 166.42C1095.75 165.29 1097.24 164.72 1100.22 163.58C1103.20 162.45 1104.69 161.88 1107.67 160.74C1110.65 159.60 1112.14 159.03 1115.12 157.90C1118.11 156.76 1119.60 156.19 1122.58 155.06C1125.56 153.92 1127.05 153.35 1130.03 152.21C1133.01 151.08 1134.50 150.51 1137.48 149.37C1140.46 148.24 1141.95 147.67 1144.93 146.53C1147.91 145.39 1149.40 144.82 1152.38 143.69C1155.36 142.55 1156.85 141.98 1159.83 140.85C1162.81 139.71 1164.30 139.14 1167.28 138.00C1170.26 136.87 1171.75 136.30 1174.74 135.16C1177.72 134.03 1179.21 133.46 1182.19 132.32C1185.17 131.18 1186.66 130.61 1189.64 129.48C1192.62 128.34 1194.11 127.77 1197.09 126.64C1200.07 125.50 1201.56 124.93 1204.54 123.79C1207.52 122.66 1209.01 122.09 1211.99 120.95C1214.97 119.82 1216.46 119.25 1219.44 118.11C1222.42 116.97 1223.91 116.40 1226.89 115.27C1229.88 114.13 1231.37 113.56 1234.35 112.43C1237.33 111.29 1238.82 110.72 1241.80 109.58C1244.78 108.45 1246.27 107.88 1249.25 106.74C1252.23 105.61 1253.72 105.04 1256.70 103.90" stroke="rgb(75,192,192)" stroke-width="1.875" fill="none"/>
</g>
<g class="t">
<text class="d" transform="translate(120.0 560.7) rotate(0.03) scale(0.962,1)" text-anchor="end">0</text>
<text class="d" transform="translate(120.0 470.7) rotate(0.03) scale(0.962,1)" text-anchor="end">5000</text>
<text class="d" transform="translate(120.0 380.7) rotate(0.03) scale(0.962,1)" text-anchor="end">10000</text>
<text class="d" transform="translate(120.0 290.7) rotate(0.03) scale(0.962,1)" text-anchor="end">15000</text>
<text class="d" transform="translate(120.0 199.65) rotate(0.03) scale(0.962,1)" text-anchor="end">20000</text>
<text class="d" transform="translate(120.0 109.65) rotate(0.03) scale(0.962,1)" text-anchor="end">25000</text>
<text class="d" transform="translate(137.27 572.5) rotate(-50) scale(0.962,1)" x="0" y="7.8" text-anchor="end">1000</text>
<text class="d" transform="translate(182.18 572.5) rotate(-50) scale(0.962,1)" x="0" y="7.8" text-anchor="end">1960</text>
<text class="d" transform="translate(227.11 572.5) rotate(-50) scale(0.962,1)" x="0" y="7.8" text-anchor="end">2920</text>
<text class="d" transform="translate(270.76 572.5) rotate(-50) scale(0.962,1)" x="0" y="7.8" text-anchor="end">3880</text>
<text class="d" transform="translate(315.54 572.5) rotate(-50) scale(0.962,1)" x="0" y="7.8" text-anchor="end">4840</text>
<text class="d" transform="translate(360.67 572.5) rotate(-50) scale(0.962,1)" x="0" y="7.8" text-anchor="end">5800</text>
<text class="d" transform="translate(405.62 572.5) rotate(-50) scale(0.962,1)" x="0" y="7.8" text-anchor="end">6760</text>
<text class="d" transform="translate(450.52 572.5) rotate(-50) scale(0.962,1)" x="0" y="7.8" text-anchor="end">7720</text>
<text class="d" transform="translate(495.46 572.5) rotate(-50) scale(0.962,1)" x="0" y="7.8" text-anchor="end">8680</text>
<text class="d" transform="translate(539.12 572.5) rotate(-50) scale(0.962,1)" x="0" y="7.8" text-anchor="end">9640</text>
<text class="d" transform="translate(583.89 572.5) rotate(-50) scale(0.962,1)" x="0" y="7.8" text-anchor="end">10600</text>
<text class="d" transform="translate(629.01 572.5) rotate(-50) scale(0.962,1)" x="0" y="7.8" text-anchor="end">11560</text>
<text class="d" transform="translate(673.97 572.5) rotate(-50) scale(0.962,1)" x="0" y="7.8" text-anchor="end">12520</text>
<text class="d" transform="translate(718.88 572.5) rotate(-50) scale(0.962,1)" x="0" y="7.8" text-anchor="end">13480</text>
<text class="d" transform="translate(763.81 572.5) rotate(-50) scale(0.962,1)" x="0" y="7.8" text-anchor="end">14440</text>
<text class="d" transform="translate(807.47 572.5) rotate(-50) scale(0.962,1)" x="0" y="7.8" text-anchor="end">15400</text>
<text class="d" transform="translate(852.24 572.5) rotate(-50) scale(0.962,1)" x="0" y="7.8" text-anchor="end">16360</text>
<text class="d" transform="translate(897.37 572.5) rotate(-50) scale(0.962,1)" x="0" y="7.8" text-anchor="end">17320</text>
<text class="d" transform="translate(942.32 572.5) rotate(-50) scale(0.962,1)" x="0" y="7.8" text-anchor="end">18280</text>
<text class="d" transform="translate(987.22 572.5) rotate(-50) scale(0.962,1)" x="0" y="7.8" text-anchor="end">19240</text>
<text class="d" transform="translate(1032.16 572.5) rotate(-50) scale(0.962,1)" x="0" y="7.8" text-anchor="end">20200</text>
<text class="d" transform="translate(1075.82 572.5) rotate(-50) scale(0.962,1)" x="0" y="7.8" text-anchor="end">21160</text>
<text class="d" transform="translate(1120.59 572.5) rotate(-50) scale(0.962,1)" x="0" y="7.8" text-anchor="end">22120</text>
<text class="d" transform="translate(1165.71 572.5) rotate(-50) scale(0.962,1)" x="0" y="7.8" text-anchor="end">23080</text>
<text class="d" transform="translate(1210.67 572.5) rotate(-50) scale(0.962,1)" x="0" y="7.8" text-anchor="end">24040</text>
<text class="d" transform="translate(1255.57 572.5) rotate(-50) scale(0.962,1)" x="0" y="7.8" text-anchor="end">25000</text>
<rect x="339.10" y="62.9" width="75" height="22" fill="rgba(75,192,192,0.2)" stroke="rgb(75,192,192)" stroke-width="1.875"/>
<rect x="581.40" y="62.9" width="75" height="22" fill="rgba(54,162,235,0.2)" stroke="rgb(54,162,235)" stroke-width="1.875"/>
<rect x="802.90" y="62.9" width="75" height="22" fill="rgba(0,0,0,0.2)" stroke="#000" stroke-width="1.875"/>
<text x="425.2" y="80.2" direction="rtl" unicode-bidi="embed" text-anchor="end" textLength="137.8" lengthAdjust="spacing">הכנסה ברוטו ₪</text>
<text x="667.8" y="80.2" direction="rtl" unicode-bidi="embed" text-anchor="end" textLength="116.5" lengthAdjust="spacing">הכנסה נטו ₪</text>
<text x="889.3" y="80.2" direction="rtl" unicode-bidi="embed" text-anchor="end" textLength="69.0" lengthAdjust="spacing">קו העוני</text>
</g>
</svg>
</body>
</html>
